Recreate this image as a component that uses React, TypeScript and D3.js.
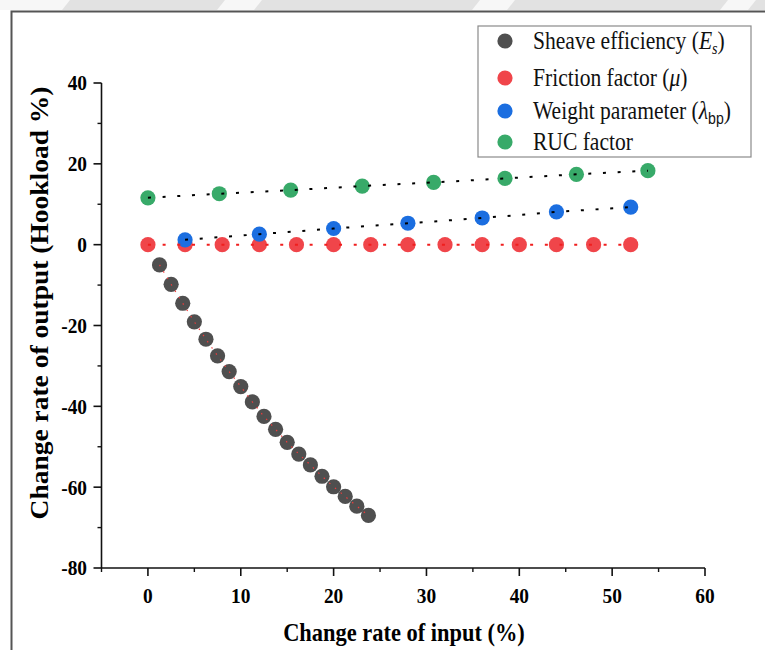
import React from "react";
import * as d3 from "d3";

const sheaveX = [1.25, 2.5, 3.75, 5, 6.25, 7.5, 8.75, 10, 11.25, 12.5, 13.75, 15, 16.25, 17.5, 18.75, 20, 21.25, 22.5, 23.75];
const sheaveY = [-5.0, -9.8, -14.5, -19.1, -23.4, -27.5, -31.4, -35.1, -38.9, -42.5, -45.7, -48.9, -51.8, -54.5, -57.3, -59.9, -62.3, -64.7, -67.0];
const frictionX = [0, 4, 8, 12, 16, 20, 24, 28, 32, 36, 40, 44, 48, 52];
const frictionY = [0, 0, 0, 0, 0, 0, 0, 0, 0, 0, 0, 0, 0, 0];
const weightX = [4, 12, 20, 28, 36, 44, 52];
const weightY = [1.2, 2.6, 4.0, 5.3, 6.6, 8.1, 9.3];
const rucX = [0, 7.69, 15.38, 23.08, 30.77, 38.46, 46.15, 53.85];
const rucY = [11.6, 12.6, 13.5, 14.5, 15.4, 16.4, 17.4, 18.3];

const xTicks = [0, 10, 20, 30, 40, 50, 60];
const yTicks = [-80, -60, -40, -20, 0, 20, 40];
const xTitle = "Change rate of input (%)";
const yTitle = "Change rate of output (Hookload %)";

const W = 765, H = 650;
const SX = 0.88;
const FONT = "'Liberation Serif', 'Times New Roman', serif";

export default function App() {
  const x = d3.scaleLinear().domain([-5, 60]).range([101.5, 705]);
  const y = d3.scaleLinear().domain([-80, 40]).range([568, 83]);
  const line = d3.line<[number, number]>().x(d => x(d[0])).y(d => y(d[1]));
  const pts = (xs: number[], ys: number[]) => xs.map((v, i) => [v, ys[i]] as [number, number]);

  const xMinor = d3.range(-5, 61, 5).filter(v => !xTicks.includes(v));
  const yMinor = d3.range(-70, 40, 20);

  const series = [
    { xs: sheaveX, ys: sheaveY, color: "#4f4f4f", lc: "#f03c3c", lw: 1.2, dash: "1.5 6" },
    { xs: frictionX, ys: frictionY, color: "#f0454a", lc: "#f01e1e", lw: 2, dash: "3 11.7" },
    { xs: weightX, ys: weightY, color: "#1b6ee0", lc: "#000", lw: 2, dash: "3 11.7" },
    { xs: rucX, ys: rucY, color: "#38aa69", lc: "#000", lw: 2, dash: "3 11.7" },
  ];

  const legendRows = [41, 78, 111, 142];
  const sc = (cx: number) => `translate(${cx},0) scale(${SX},1) translate(${-cx},0)`;

  const stripeGaps = [[0, 70], [225, 262], [480, 515], [728, 756]];

  return (
    <svg width={W} height={H} style={{ position: "absolute", left: 0, top: 0, background: "#fff" }} fontFamily={FONT}>
      <rect x={0} y={0} width={W} height={H} fill="#fff" />
      <rect x={0} y={0} width={W} height={10} fill="#e2e2e2" />
      {stripeGaps.map(([a, b], i) => (
        <path key={i} d={`M${a},0 L${b},0 L${b - 8},10 L${a - 8},10 Z`} fill="#f7f7f7" />
      ))}
      <rect x={0} y={10} width={11} height={H} fill="#fff" />
      <path d={`M11.5,${H} L11.5,11.5 L${W},11.5`} fill="none" stroke="#555" strokeWidth={2} />

      {/* axes */}
      <line x1={x(-5)} x2={x(60)} y1={y(-80)} y2={y(-80)} stroke="#111" strokeWidth={1.6} />
      <line x1={x(-5)} x2={x(-5)} y1={y(-80)} y2={y(40)} stroke="#111" strokeWidth={1.6} />
      {xTicks.map(v => (
        <g key={"xt" + v}>
          <line x1={x(v)} x2={x(v)} y1={y(-80)} y2={y(-80) + 8} stroke="#111" strokeWidth={1.6} />
          <text x={x(v)} y={603} textAnchor="middle" fontSize={22} fontWeight="bold" fill="#000" transform={sc(x(v))}>{v}</text>
        </g>
      ))}
      {xMinor.map(v => (
        <line key={"xm" + v} x1={x(v)} x2={x(v)} y1={y(-80)} y2={y(-80) + 4} stroke="#111" strokeWidth={1.4} />
      ))}
      {yTicks.map(v => (
        <g key={"yt" + v}>
          <line x1={x(-5) - 8} x2={x(-5)} y1={y(v)} y2={y(v)} stroke="#111" strokeWidth={1.6} />
          <text x={87} y={y(v) + 7.5} textAnchor="end" fontSize={22} fontWeight="bold" fill="#000" transform={sc(87)}>{v}</text>
        </g>
      ))}
      {yMinor.map(v => (
        <line key={"ym" + v} x1={x(-5) - 4} x2={x(-5)} y1={y(v)} y2={y(v)} stroke="#111" strokeWidth={1.4} />
      ))}
      <text x={404} y={641} textAnchor="middle" fontSize={25.5} fontWeight="bold" fill="#000" transform={sc(404)}>{xTitle}</text>
      <g transform={`translate(48,303) scale(${SX},1) rotate(-90)`}>
        <text x={0} y={0} textAnchor="middle" fontSize={27.5} fontWeight="bold" fill="#000">{yTitle}</text>
      </g>

      {/* data */}
      {series.map((s, i) => (
        <g key={"s" + i}>
          {s.xs.map((v, j) => (
            <circle key={j} cx={x(v)} cy={y(s.ys[j])} r={7.6} fill={s.color} />
          ))}
        </g>
      ))}
      {series.map((s, i) => (
        <path key={"l" + i} d={line(pts(s.xs, s.ys)) || ""} fill="none" stroke={s.lc} strokeWidth={s.lw} strokeDasharray={s.dash} />
      ))}

      {/* legend */}
      <rect x={478} y={26} width={273} height={131} fill="#fff" stroke="#8a8a8a" strokeWidth={1.2} />
      {series.map((s, i) => (
        <circle key={"lg" + i} cx={505} cy={legendRows[i]} r={7.6} fill={s.color} />
      ))}
      <g fontSize={24.5} fill="#111">
        <text x={533} y={legendRows[0] + 8} transform={sc(533)}>
          Sheave efficiency (<tspan fontStyle="italic">E</tspan><tspan fontStyle="italic" fontSize={16} dy={5}>s</tspan><tspan dy={-5}>)</tspan>
        </text>
        <text x={533} y={legendRows[1] + 8} transform={sc(533)}>
          Friction factor (<tspan fontStyle="italic">μ</tspan>)
        </text>
        <text x={533} y={legendRows[2] + 8} transform={sc(533)}>
          Weight parameter (<tspan fontStyle="italic">λ</tspan><tspan fontFamily="'Liberation Sans', Arial, sans-serif" fontSize={16} dy={5}>bp</tspan><tspan dy={-5}>)</tspan>
        </text>
        <text x={533} y={legendRows[3] + 8} transform={sc(533)}>RUC factor</text>
      </g>
    </svg>
  );
}
